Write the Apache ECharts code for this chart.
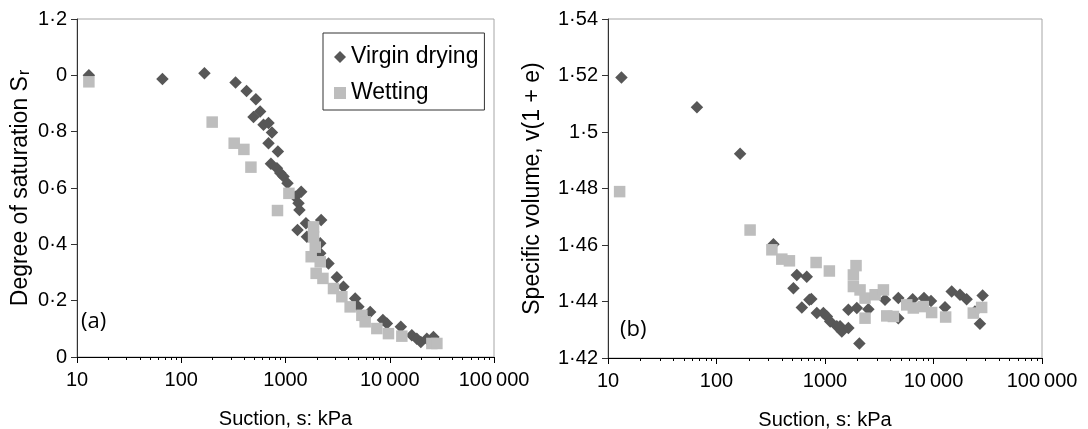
<!DOCTYPE html>
<html><head><meta charset="utf-8">
<script src="https://cdn.jsdelivr.net/npm/echarts@6/dist/echarts.min.js"></script>
<style>html,body{margin:0;padding:0;background:#fff}#c{width:1088px;height:429px}</style>
</head><body><div id="c"></div>
<script>
// ---- tick labels ----
const xTickLabels = ['10', '100', '1000', '10\u2009000', '100\u2009000'];
const yTickLabelsA = ['0', '0·2', '0·4', '0·6', '0·8', '0', '1·2'];
const yTickLabelsB = ['1·42', '1·44', '1·46', '1·48', '1·5', '1·52', '1·54'];

// ---- (a) degree of saturation ----
const dryingSuctionA = [13, 66, 167, 332, 423, 520, 571, 493, 615, 687, 741, 687, 845, 725, 828, 890, 957, 1045, 1415, 1240, 1333, 1361, 2198, 1570, 1303, 1603, 2153, 2153, 2585, 3110, 3597, 4660, 5010, 6490, 8590, 9380, 12770, 16290, 18190, 19870, 22680, 26250];
const dryingSrA = [1.0, 0.987, 1.007, 0.975, 0.944, 0.915, 0.872, 0.852, 0.825, 0.831, 0.797, 0.759, 0.730, 0.686, 0.670, 0.653, 0.641, 0.617, 0.587, 0.569, 0.546, 0.522, 0.486, 0.475, 0.451, 0.427, 0.404, 0.368, 0.332, 0.283, 0.249, 0.208, 0.178, 0.160, 0.131, 0.119, 0.107, 0.077, 0.065, 0.053, 0.065, 0.071];
const wettingSuctionA = [13, 198, 322, 399, 466, 838, 1078, 1858, 1858, 1929, 1763, 2153, 1968, 2286, 2886, 3473, 4170, 5400, 5810, 7520, 9720, 13060, 25350, 28320];
const wettingSrA = [0.977, 0.834, 0.759, 0.737, 0.674, 0.520, 0.581, 0.462, 0.426, 0.390, 0.356, 0.338, 0.297, 0.279, 0.243, 0.214, 0.178, 0.148, 0.125, 0.101, 0.083, 0.074, 0.048, 0.048];

// ---- (b) specific volume ----
const dryingSuctionB = [13.3, 66, 165, 335, 550, 679, 512, 718, 748, 611, 841, 966, 1040, 1117, 1285, 1377, 1429, 1643, 1643, 1964, 2075, 2512, 3575, 4740, 4740, 6430, 8170, 9480, 12760, 14710, 17540, 20210, 28380, 24090, 26800];
const dryingVB = [1.5193, 1.5088, 1.4923, 1.4603, 1.4494, 1.4488, 1.4447, 1.4406, 1.4409, 1.4379, 1.4359, 1.4359, 1.4347, 1.4329, 1.4312, 1.4312, 1.4294, 1.4306, 1.4371, 1.4377, 1.4251, 1.4373, 1.4406, 1.4412, 1.4341, 1.4408, 1.4412, 1.4402, 1.4380, 1.4435, 1.4424, 1.4408, 1.4421, 1.4365, 1.4321];
const wettingSuctionB = [12.8, 204, 324, 400, 470, 828, 1097, 1932, 1826, 1826, 2104, 2339, 2339, 2896, 3454, 3710, 4267, 5665, 6515, 8050, 9610, 12940, 23270, 27790];
const wettingVB = [1.4789, 1.4653, 1.4583, 1.4550, 1.4544, 1.4538, 1.4508, 1.4527, 1.4494, 1.4453, 1.4441, 1.4412, 1.4341, 1.4424, 1.4441, 1.4349, 1.4347, 1.4388, 1.4377, 1.4382, 1.4361, 1.4345, 1.4359, 1.4379];

const FONT = "'Liberation Sans', Arial, Helvetica, sans-serif";
const DARK = '#575757', LIGHT = '#bdbdbd';
const zip = (a, b) => a.map((v, i) => [v, b[i]]);

function xAxis(gi) {
  return {
    type: 'log', logBase: 10, gridIndex: gi, min: 10, max: 100000,
    axisLine: { show: true, onZero: false, lineStyle: { color: '#000', width: 1 } },
    axisTick: { show: true, inside: false, length: 6, lineStyle: { color: '#000' } },
    minorTick: { show: true, splitNumber: 9, length: 3, lineStyle: { color: '#000' } },
    splitLine: { show: false }, minorSplitLine: { show: false },
    axisLabel: { margin: 13, color: '#000', fontSize: 20, fontFamily: FONT,
      showMinLabel: true, showMaxLabel: true,
      formatter: v => xTickLabels[Math.round(Math.log10(v)) - 1] },
    name: 'Suction, s: kPa', nameLocation: 'middle', nameGap: 52, nameMoveOverlap: false,
    nameTextStyle: { color: '#000', fontSize: 20, fontFamily: FONT }
  };
}
function yAxis(gi, min, max, step, labels, name, gap) {
  return {
    type: 'value', gridIndex: gi, min: min, max: max, interval: step,
    axisLine: { show: true, onZero: false, lineStyle: { color: '#333', width: 1 } },
    axisTick: { show: true, inside: false, length: 6, lineStyle: { color: '#333' } },
    splitLine: { show: false },
    axisLabel: { margin: 10, color: '#000', fontSize: 20, fontFamily: FONT,
      showMinLabel: true, showMaxLabel: true,
      formatter: v => labels[Math.round((v - min) / step)] },
    name: name, nameLocation: 'middle', nameGap: gap, nameMoveOverlap: false,
    nameTextStyle: { color: '#000', fontSize: 23, fontFamily: FONT,
      rich: {
        n: { fontSize: 23, fontFamily: FONT, color: '#000' },
        sub: { fontSize: 16, fontFamily: FONT, color: '#000', verticalAlign: 'bottom', padding: [9, 0, 0, 1] }
      } }
  };
}
function drying(xi, data) {
  return { name: 'Virgin drying', type: 'scatter', xAxisIndex: xi, yAxisIndex: xi,
    symbol: 'diamond', symbolSize: 12.5, data: data, itemStyle: { color: DARK, opacity: 1 }, z: 2 };
}
function wetting(xi, data) {
  return { name: 'Wetting', type: 'scatter', xAxisIndex: xi, yAxisIndex: xi,
    symbol: 'rect', symbolSize: 11.5, data: data, itemStyle: { color: LIGHT, opacity: 1 }, z: 3 };
}

const chart = echarts.init(document.getElementById('c'), null, { renderer: 'canvas' });
chart.setOption({
  animation: false,
  backgroundColor: '#fff',
  grid: [
    { left: 77, top: 19, width: 417, height: 338, show: true, borderColor: '#a6a6a6', borderWidth: 1, backgroundColor: 'transparent', containLabel: false, outerBoundsMode: 'none' },
    { left: 608, top: 19, width: 434, height: 339, show: true, borderColor: '#a6a6a6', borderWidth: 1, backgroundColor: 'transparent', containLabel: false, outerBoundsMode: 'none' }
  ],
  xAxis: [xAxis(0), xAxis(1)],
  yAxis: [
    yAxis(0, 0, 1.2, 0.2, yTickLabelsA, '{n|Degree of saturation S}{sub|r}', 44),
    yAxis(1, 1.42, 1.54, 0.02, yTickLabelsB, 'Specific volume, v(1 + e)', 64)
  ],
  legend: {
    show: true, left: 323, top: 33, orient: 'vertical',
    data: [{ name: 'Virgin drying', icon: 'diamond' }, { name: 'Wetting', icon: 'rect' }],
    itemWidth: 12, itemHeight: 12, itemGap: 10,
    padding: [11, 6, 4, 11],
    borderColor: '#333', borderWidth: 1, backgroundColor: '#fff',
    textStyle: { color: '#000', fontSize: 23, fontFamily: FONT, lineHeight: 26 }
  },
  graphic: [
    { type: 'text', left: 81, top: 311, style: { text: '(a)', fontSize: 22, fontFamily: "'Open Sans', sans-serif", fill: '#000' } },
    { type: 'text', left: 620, top: 319, style: { text: '(b)', fontSize: 22, fontFamily: "'Open Sans', sans-serif", fill: '#000' } }
  ],
  series: [
    drying(0, zip(dryingSuctionA, dryingSrA)),
    wetting(0, zip(wettingSuctionA, wettingSrA)),
    drying(1, zip(dryingSuctionB, dryingVB)),
    wetting(1, zip(wettingSuctionB, wettingVB))
  ]
});
</script>
</body></html>
